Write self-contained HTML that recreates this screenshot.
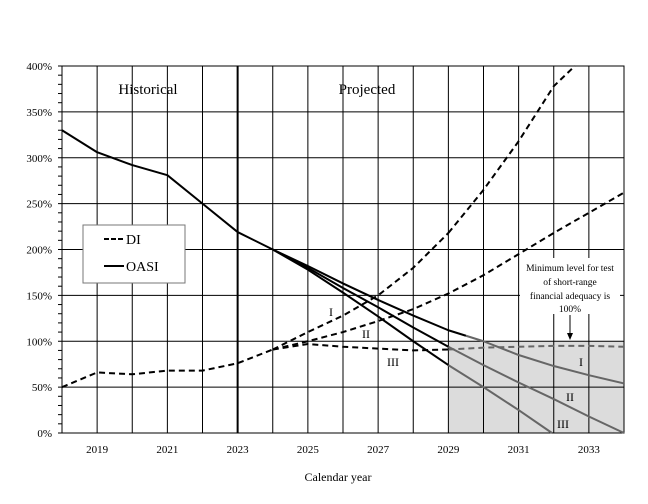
<!DOCTYPE html><html><head><style>body{margin:0;background:#fff}svg{display:block;font-family:"Liberation Serif",serif}</style></head><body>
<svg id="s" width="648" height="504" viewBox="0 0 648 504"></svg>
<script>
const X=y=>62+(y-2018)*35.125, Y=v=>433-v*0.9175;
let h='';
h+=`<rect x="${X(2029)}" y="${Y(100)}" width="${X(2034)-X(2029)}" height="${Y(0)-Y(100)}" fill="#dcdcdc"/>`;
for(let y=2019;y<2034;y++)h+=`<line x1="${X(y)}" y1="66" x2="${X(y)}" y2="433" stroke="#000" stroke-width="${y==2023?2:1}"/>`;
for(let v=50;v<400;v+=50)h+=`<line x1="62" y1="${Y(v)}" x2="624" y2="${Y(v)}" stroke="#000" stroke-width="1"/>`;
h+=`<rect x="62" y="66" width="562" height="367" fill="none" stroke="#000" stroke-width="1"/>`;
for(let v=0;v<=400;v+=10)h+=`<line x1="58" y1="${Y(v)}" x2="62" y2="${Y(v)}" stroke="#000"/>`;
for(let v=0;v<=400;v+=50)h+=`<text x="52" y="${Y(v)+4}" font-size="11" text-anchor="end">${v}%</text>`;
for(let y=2019;y<=2033;y+=2)h+=`<text x="${X(y)}" y="453" font-size="11" text-anchor="middle">${y}</text>`;
h+=`<text x="338" y="481" font-size="12" text-anchor="middle">Calendar year</text>`;
h+=`<text x="148" y="94" font-size="15" text-anchor="middle">Historical</text><text x="367" y="94" font-size="15" text-anchor="middle">Projected</text>`;
const P=(pts,c,d,w)=>`<polyline points="${pts.map(p=>X(p[0])+','+Y(p[1])).join(' ')}" fill="none" stroke="${c}" stroke-width="${w||2}" ${d?'stroke-dasharray="6,4"':''} stroke-linejoin="round"/>`;
h+=P([[2018,330],[2019,306],[2020,292],[2021,281],[2022,250],[2023,219],[2024,200]],'#000');
h+=P([[2018,50],[2019,66],[2020,64],[2021,68],[2022,68],[2023,76],[2024,91]],'#000',1);
// DI projections
h+=P([[2024,91],[2025,110],[2026,128],[2027,150],[2028,180],[2029,218]],'#000',1);
h+=P([[2029,218],[2030,265],[2031,318],[2032,378],[2032.6,400]],'#000',1);
h+=P([[2024,91],[2025,100],[2026,110],[2027,122],[2028,135],[2029,152],[2030,172],[2031,195],[2032,218],[2033,240],[2034,262]],'#000',1);
h+=P([[2024,91],[2025,97],[2026,94],[2027,92],[2028,90],[2029,91]],'#000',1);
h+=P([[2029,91],[2030,93],[2031,94],[2032,95],[2033,95],[2034,94]],'#666',1);
// OASI projections
h+=P([[2024,200],[2025,182],[2026,163],[2027,145],[2028,128],[2029,112],[2029.5,106]],'#000');
h+=P([[2029.5,106],[2030,100],[2031,85],[2032,73],[2033,63],[2034,54]],'#666');
h+=P([[2024,200],[2025,180],[2026,158],[2027,137],[2028,115],[2029,94]],'#000');
h+=P([[2029,94],[2030,74],[2031,55],[2032,37],[2033,18],[2034,0]],'#666');
h+=P([[2024,200],[2025,178],[2026,153],[2027,127],[2028,100],[2029,74]],'#000');
h+=P([[2029,74],[2030,50],[2031,25],[2031.95,0]],'#666');
h+=`<g font-size="12"><text x="331" y="316" text-anchor="middle">I</text><text x="366" y="338" text-anchor="middle">II</text><text x="393" y="366" text-anchor="middle">III</text><text x="581" y="366" text-anchor="middle">I</text><text x="570" y="401" text-anchor="middle">II</text><text x="563" y="428" text-anchor="middle">III</text></g>`;
h+=`<rect x="520" y="258" width="100" height="56" fill="#fff"/><g font-size="9.5" text-anchor="middle"><text x="570" y="271">Minimum level for test</text><text x="570" y="285">of short-range</text><text x="570" y="299">financial adequacy is</text><text x="570" y="312">100%</text></g>`;
h+=`<line x1="570" y1="315" x2="570" y2="334" stroke="#000"/><polygon points="567,333 573,333 570,340" fill="#000"/>`;
h+=`<rect x="83" y="225" width="102" height="58" fill="#fff" stroke="#777"/>`;
h+=`<line x1="104" y1="239" x2="124" y2="239" stroke="#000" stroke-width="2" stroke-dasharray="5,2"/><text x="126" y="244" font-size="14">DI</text>`;
h+=`<line x1="104" y1="266" x2="124" y2="266" stroke="#000" stroke-width="2"/><text x="126" y="271" font-size="14">OASI</text>`;
document.getElementById('s').innerHTML=h;
</script></body></html>
